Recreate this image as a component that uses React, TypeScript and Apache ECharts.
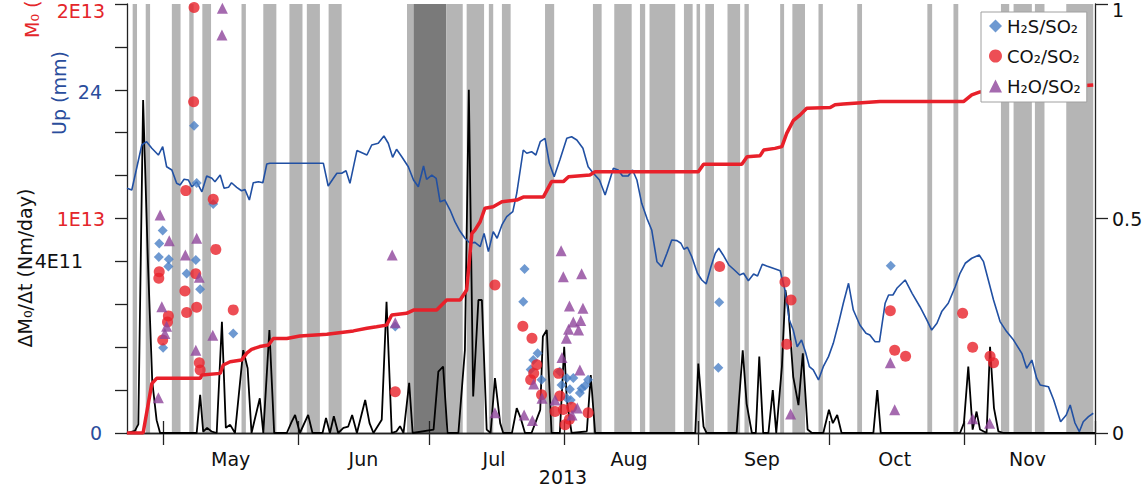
import React, { useEffect, useRef } from 'react';
import * as echarts from 'echarts';

// x values are day-of-year 2013
const X_MIN = 112.7;
const X_MAX = 335;
const monthStarts = [121, 152, 182, 213, 244, 274, 305, 335];
const monthMids = [136.5, 167, 197, 228, 258.5, 289, 319.5];
const monthNames = ['May', 'Jun', 'Jul', 'Aug', 'Sep', 'Oct', 'Nov'];
const yearLabel = '2013';

// grey day bands [startDay, endDay, dark?]
const bands: [number, number, number][] = [
  [114, 115, 0], [117, 118, 0], [123, 125, 0], [127, 128, 0], [130, 132, 0], [139, 140, 0],
  [144, 147, 0], [150, 153, 0], [154, 157, 0], [159, 162, 0], [177, 178.5, 0], [178.5, 186, 1],
  [186, 189.8, 0], [190.7, 194.7, 0], [195.8, 196.8, 0], [198.8, 200.8, 0], [208.7, 210.8, 0],
  [219.7, 221.7, 0], [224.6, 228.6, 0], [230.5, 231.7, 0], [232.7, 238.6, 0], [240.6, 242.6, 0],
  [243.5, 244.3, 0], [245.5, 247.5, 0], [250.6, 253.5, 0], [254.5, 255.5, 0], [262.7, 263.6, 0],
  [265.5, 268.4, 0], [271.5, 272.5, 0], [280.4, 281.5, 0], [296.5, 297.6, 0], [302.5, 303.6, 0],
  [313.4, 315.3, 0], [316.3, 320.5, 0], [321.2, 323.4, 0], [328.4, 334.6, 0],
];

// daily moment rate, units of 1E11 Nm/day
const dMomentE11: [number, number][] = [
  [112.7, 0], [114.5, 0.05], [115.3, 0.2], [116.4, 7.76], [117.5, 4.0], [118.5, 1.2], [119.5, 0.3], [120.3, 0],
  [128.7, 0], [129.5, 0.89], [130.2, 0.03], [131.1, 0.12], [132.2, 0.03], [133.3, 0], [134.5, 2.59], [135.4, 0.12],
  [136.4, 0.19], [137.5, 0], [139.4, 1.93], [140.4, 1.51], [141.3, 0], [143.2, 0.81], [144.0, 0], [145.4, 2.4], [146.5, 0],
  [149.4, 0], [150.5, 0.26], [151.3, 0.42], [152.4, 0], [154.3, 0.42], [155.3, 0], [157.6, 0], [158.4, 0.35], [159.3, 0],
  [160.2, 0.39], [161.2, 0], [162.4, 0.12], [163.5, 0.15], [164.4, 0.42], [165.5, 0], [167.4, 0.77], [168.4, 0.23],
  [169.3, 0], [171.2, 0.31], [172.3, 3.06], [173.5, 0], [174.6, 0.04], [175.4, 0.16], [176.2, 0], [177.5, 1.17], [178.3, 0],
  [183.1, 0.08], [184.2, 1.43], [185.3, 1.55], [186.3, 0], [188.8, 0], [190.3, 1.93], [191.2, 8.0], [192.2, 0.85],
  [193.4, 3.1], [194.2, 3.1], [195.3, 0.08], [196.2, 0], [197.2, 1.28], [198.4, 0.23], [199.1, 0], [201.1, 0],
  [202.2, 0.58], [203.1, 0.35], [204.1, 0], [205.6, 0], [207.6, 0.54], [208.2, 2.25], [209.1, 2.4], [210.2, 0],
  [212.1, 0], [213.1, 2.01], [213.7, 0.77], [214.8, 0], [218.3, 0.04], [219.2, 1.35], [220.2, 0],
  [243.2, 0], [243.9, 1.62], [245.1, 0.15], [245.8, 0], [252.7, 0], [254.1, 1.93], [255.0, 0.68], [256.2, 0],
  [257.1, 0], [257.9, 1.78], [258.8, 0], [260.0, 0], [261.0, 1.0], [261.8, 0], [263.1, 1.55], [263.9, 3.33],
  [264.6, 2.87], [265.7, 1.31], [266.9, 0.65], [267.9, 1.86], [269.0, 0.08], [270.0, 0],
  [272.6, 0], [273.9, 0.54], [274.8, 0.23], [275.8, 0.42], [276.8, 0], [284.1, 0], [285.0, 1.0], [285.8, 0],
  [304.0, 0], [304.9, 0.23], [305.9, 1.55], [306.9, 0.08], [307.8, 0.5], [308.6, 0.08], [310.1, 0], [310.9, 2.01],
  [311.8, 0.58], [312.8, 0.04], [314.0, 0], [335, 0],
];

// cumulative moment, units of 1E13 Nm
const momentE13: [number, number][] = [
  [112.7, 0], [116.4, 0], [118.4, 0.23], [119.5, 0.255], [129.5, 0.255], [129.9, 0.27], [134.1, 0.278], [134.8, 0.317],
  [136.4, 0.332], [139.0, 0.34], [140.2, 0.372], [141.3, 0.39], [143.2, 0.403], [145.2, 0.41], [146.3, 0.441],
  [149.4, 0.441], [152.4, 0.452], [158.6, 0.46], [164.7, 0.476], [167.8, 0.488], [170.0, 0.495], [172.3, 0.503],
  [173.5, 0.55], [176.9, 0.558], [178.5, 0.573], [183.8, 0.573], [186.1, 0.62], [189.2, 0.62], [190.7, 0.667],
  [191.9, 0.93], [192.6, 0.946], [193.8, 0.985], [194.9, 1.048], [196.8, 1.055], [198.8, 1.078], [202.2, 1.086],
  [203.7, 1.1], [208.3, 1.1], [210.2, 1.172], [212.9, 1.172], [214.1, 1.195], [219.0, 1.203], [220.2, 1.218],
  [243.9, 1.218], [245.1, 1.253], [253.9, 1.253], [255.1, 1.288], [258.1, 1.293], [258.9, 1.319], [261.5, 1.327],
  [263.1, 1.335], [264.2, 1.397], [265.7, 1.456], [267.3, 1.483], [268.8, 1.514], [274.2, 1.517], [275.3, 1.53],
  [277.2, 1.534], [285.6, 1.545], [304.8, 1.545], [306.7, 1.576], [308.6, 1.59], [313.2, 1.6], [324.7, 1.61],
  [334.6, 1.622],
];

// GPS vertical displacement, mm
const upMm: [number, number][] = [
  [112.7, 17.11], [113.8, 16.99], [116.1, 20.14], [117.2, 20.37], [118.4, 19.91], [119.9, 19.44], [120.9, 20.02],
  [121.8, 18.62], [123.0, 18.39], [124.1, 17.46], [124.9, 17.34], [125.8, 17.74], [126.8, 17.69], [127.6, 17.22],
  [128.7, 17.57], [129.9, 16.87], [131.0, 17.97], [132.2, 17.81], [132.9, 17.57], [134.1, 18.04], [135.0, 17.11],
  [136.0, 17.18], [136.7, 17.5], [137.9, 17.18], [139.0, 16.94], [139.8, 17.02], [140.8, 16.29], [141.7, 17.5],
  [142.9, 17.57], [143.9, 17.5], [144.8, 18.81], [145.5, 18.86], [157.8, 18.86], [158.9, 17.27], [160.1, 17.81],
  [160.9, 18.16], [162.0, 18.16], [163.0, 18.34], [163.9, 17.46], [165.5, 19.75], [167.8, 19.44], [168.9, 20.14],
  [170.4, 20.26], [171.7, 20.77], [172.7, 20.26], [173.7, 19.28], [174.6, 19.84], [175.8, 19.32], [177.3, 18.62],
  [178.5, 17.69], [179.6, 17.22], [180.8, 18.67], [181.5, 17.74], [182.7, 18.04], [183.7, 17.81], [184.6, 16.17],
  [185.7, 16.29], [186.9, 15.59], [188.0, 14.78], [189.0, 14.2], [190.3, 13.62], [191.5, 13.27], [192.6, 13.33],
  [193.8, 13.03], [194.7, 13.96], [195.7, 12.68], [196.8, 14.08], [197.7, 13.62], [198.8, 14.55], [199.9, 15.13],
  [201.3, 15.48], [202.2, 16.76], [203.7, 19.79], [204.5, 19.56], [205.6, 19.67], [206.6, 19.44], [207.6, 20.37],
  [208.7, 20.61], [209.7, 18.86], [210.8, 17.92], [212.1, 19.09], [213.7, 20.61], [214.8, 20.72], [216.0, 20.49],
  [217.4, 19.91], [218.6, 18.62], [219.8, 18.16], [221.2, 17.69], [222.5, 16.64], [224.4, 18.51], [225.5, 18.39],
  [226.5, 17.97], [227.8, 17.97], [228.8, 18.39], [229.8, 17.69], [230.9, 16.06], [232.1, 15.01], [233.2, 14.2],
  [234.4, 11.98], [235.5, 11.63], [236.7, 12.57], [237.8, 13.5], [239.0, 13.45], [239.9, 13.27], [240.6, 12.85],
  [241.4, 12.99], [242.4, 12.33], [243.7, 11.17], [244.7, 10.7], [245.7, 10.42], [246.8, 11.63], [247.8, 12.57],
  [248.6, 12.92], [249.6, 12.45], [250.9, 11.75], [252.0, 11.45], [253.4, 11.05], [254.3, 11.17], [255.4, 10.65],
  [256.6, 11.12], [257.5, 10.98], [258.6, 11.8], [259.6, 11.68], [261.1, 11.52], [262.7, 11.35], [263.8, 10.0],
  [264.8, 7.9], [265.7, 7.2], [266.6, 6.03], [267.6, 6.5], [268.6, 5.57], [269.4, 4.64], [270.3, 4.41], [271.5, 3.71],
  [272.6, 4.64], [273.8, 5.34], [274.9, 6.27], [276.1, 7.67], [277.2, 9.07], [278.4, 10.47], [279.5, 8.6],
  [281.0, 7.55], [282.4, 6.97], [283.3, 6.85], [284.5, 6.38], [285.5, 6.38], [286.8, 9.07], [287.6, 9.65],
  [288.6, 9.65], [289.5, 10.12], [291.4, 10.7], [293.0, 9.77], [294.8, 8.83], [296.4, 7.9], [297.5, 7.2],
  [298.7, 7.67], [299.8, 8.49], [301.3, 9.07], [302.9, 10.23], [304.0, 11.17], [305.2, 11.87], [306.7, 12.22],
  [308.4, 12.45], [309.4, 11.98], [310.5, 10.7], [311.7, 9.3], [313.2, 7.79], [314.7, 7.09], [316.3, 6.5],
  [318.2, 5.57], [319.3, 4.52], [320.5, 5.1], [321.6, 3.83], [322.4, 3.36], [324.3, 3.24], [325.5, 2.33],
  [327.1, 0.79], [328.4, 1.26], [329.3, 1.96], [330.4, 0.7], [331.4, 0.09], [332.3, 0.79], [333.5, 1.14], [334.6, 1.38],
];

// normalised gas ratios (right axis)
const h2sRatio: [number, number][] = [
  [128.1, 0.716], [128.7, 0.583], [132.5, 0.534], [120.9, 0.472], [120.1, 0.442], [120.0, 0.41], [122.3, 0.405],
  [122.2, 0.388], [128.5, 0.403], [126.4, 0.372], [129.5, 0.335], [137.1, 0.232], [121.0, 0.199], [174.3, 0.248],
  [204.0, 0.382], [203.7, 0.306], [207.0, 0.186], [206.0, 0.17], [205.4, 0.148], [207.9, 0.124], [212.1, 0.143],
  [213.7, 0.128], [215.2, 0.128], [212.5, 0.112], [214.4, 0.102], [217.1, 0.104], [218.6, 0.124], [216.7, 0.093],
  [213.7, 0.081], [214.6, 0.077], [217.9, 0.11], [248.7, 0.305], [248.5, 0.152], [288.1, 0.39],
];
const co2Ratio: [number, number][] = [
  [128.1, 0.992], [128.0, 0.772], [126.2, 0.565], [132.5, 0.545], [133.1, 0.428], [120.1, 0.376], [120.0, 0.361],
  [128.5, 0.371], [126.0, 0.331], [126.4, 0.281], [128.7, 0.293], [122.2, 0.273], [122.0, 0.259], [120.9, 0.217],
  [137.1, 0.287], [129.3, 0.164], [129.5, 0.147], [174.3, 0.096], [197.2, 0.345], [203.6, 0.249], [205.7, 0.221],
  [206.8, 0.159], [206.1, 0.139], [205.4, 0.124], [207.9, 0.089], [211.8, 0.139], [212.1, 0.086], [211.0, 0.05],
  [212.9, 0.055], [214.8, 0.06], [214.3, 0.032], [213.3, 0.019], [218.6, 0.047], [248.8, 0.388], [263.8, 0.352],
  [265.2, 0.31], [264.2, 0.207], [288.0, 0.285], [289.0, 0.193], [291.5, 0.179], [304.6, 0.279], [306.9, 0.2],
  [310.9, 0.179], [311.7, 0.164],
];
const h2oRatio: [number, number][] = [
  [134.6, 0.99], [134.5, 0.928], [120.3, 0.508], [122.4, 0.448], [128.7, 0.454], [126.1, 0.415], [129.3, 0.363],
  [120.7, 0.294], [121.8, 0.249], [121.4, 0.232], [132.4, 0.228], [128.5, 0.193], [119.9, 0.082], [173.6, 0.415],
  [174.3, 0.257], [212.4, 0.425], [212.9, 0.364], [217.1, 0.371], [214.3, 0.296], [217.4, 0.291], [215.2, 0.259],
  [216.9, 0.262], [214.1, 0.242], [216.4, 0.24], [213.6, 0.221], [212.6, 0.176], [216.7, 0.147], [206.1, 0.114],
  [208.0, 0.081], [211.0, 0.077], [216.1, 0.058], [214.9, 0.042], [197.2, 0.047], [203.9, 0.042], [205.8, 0.029],
  [265.1, 0.044], [288.0, 0.164], [289.0, 0.054], [306.9, 0.033], [310.8, 0.023],
];

const FONT = 'DejaVu Sans';
const RED = '#e4262b';
const BLUE = '#2a4d9c';
const AXIS = '#222222';

export default function App() {
  const ref = useRef<HTMLDivElement>(null);
  useEffect(() => {
    if (!ref.current) return;
    const chart = echarts.init(ref.current, undefined, { renderer: 'svg' });
    const near = (a: number, b: number) => Math.abs(a - b) < 1e-6;
    const option: any = {
      animation: false,
      backgroundColor: '#ffffff',
      grid: { left: 127, right: 52, top: 4, bottom: 62, outerBoundsMode: 'none' },
      legend: {
        data: ['H₂S/SO₂', 'CO₂/SO₂', 'H₂O/SO₂'],
        orient: 'vertical',
        left: 981,
        top: 12,
        padding: [5, 6, 7, 8],
        itemGap: 12,
        itemWidth: 13,
        itemHeight: 13,
        backgroundColor: '#ffffff',
        borderColor: '#a0a0a0',
        borderWidth: 1,
        borderRadius: 0,
        textStyle: { fontFamily: FONT, fontSize: 18, color: '#111' },
        z: 20,
      },
      xAxis: [
        {
          type: 'value', min: X_MIN, max: X_MAX, position: 'bottom',
          axisLine: { show: true, lineStyle: { color: AXIS, width: 1.3 } },
          axisTick: { show: true, inside: false, length: 12, customValues: monthStarts, lineStyle: { color: AXIS, width: 1.3 } },
          axisLabel: {
            customValues: monthMids, margin: 16, color: '#111', fontFamily: FONT, fontSize: 19,
            formatter: (v: number) => { const i = monthMids.findIndex((m) => near(m, v)); return i >= 0 ? monthNames[i] : ''; },
          },
          splitLine: { show: false },
        },
        {
          type: 'value', min: X_MIN, max: X_MAX, position: 'top',
          axisLine: { show: true, lineStyle: { color: AXIS, width: 1.3 } },
          axisTick: { show: true, inside: false, length: 12, customValues: monthStarts, lineStyle: { color: AXIS, width: 1.3 } },
          axisLabel: { show: false },
          splitLine: { show: false },
        },
      ],
      yAxis: [
        {
          type: 'value', min: 0, max: 2, interval: 0.2, position: 'left',
          axisLine: { show: true, lineStyle: { color: AXIS, width: 1.3 } },
          axisTick: { show: true, inside: false, length: 12, lineStyle: { color: AXIS, width: 1.3 } },
          axisLabel: {
            margin: 22, color: RED, fontFamily: FONT, fontSize: 19,
            formatter: (v: number) => (near(v, 2) ? '{t|2E13}' : near(v, 1) ? '1E13' : ''),
            rich: { t: { padding: [13, 0, 0, 0], color: RED, fontFamily: FONT, fontSize: 19 } },
          },
          splitLine: { show: false },
        },
        {
          type: 'value', min: 0, max: 30, interval: 6, position: 'left',
          axisLine: { show: false }, axisTick: { show: false },
          axisLabel: {
            margin: 25, color: BLUE, fontFamily: FONT, fontSize: 19,
            formatter: (v: number) => (near(v, 24) ? '{u|24}' : near(v, 0) ? '0' : ''),
            rich: { u: { padding: [5, 0, 0, 0], color: BLUE, fontFamily: FONT, fontSize: 19 } },
          },
          splitLine: { show: false },
        },
        {
          type: 'value', min: 0, max: 10, interval: 1, position: 'left',
          axisLine: { show: false }, axisTick: { show: false },
          axisLabel: {
            margin: 44, color: '#111', fontFamily: FONT, fontSize: 19,
            formatter: (v: number) => (near(v, 4) ? '4E11' : ''),
          },
          splitLine: { show: false },
        },
        {
          type: 'value', min: 0, max: 1, interval: 0.5, position: 'right',
          axisLine: { show: true, lineStyle: { color: AXIS, width: 1.3 } },
          axisTick: { show: true, inside: false, length: 13, lineStyle: { color: AXIS, width: 1.3 } },
          axisLabel: {
            margin: 17, color: '#111', fontFamily: FONT, fontSize: 19,
            formatter: (v: number) => (near(v, 1) ? '{t|1}' : String(v)),
            rich: { t: { padding: [12, 0, 0, 0], color: '#111', fontFamily: FONT, fontSize: 19 } },
          },
          splitLine: { show: false },
        },
      ],
      graphic: [
        {
          type: 'text', x: 25, y: 268, rotation: Math.PI / 2, z: 30,
          style: { text: 'ΔM₀/Δt (Nm/day)', fill: '#111', font: `19px "${FONT}"`, textAlign: 'center', textVerticalAlign: 'middle', align: 'center', verticalAlign: 'middle' },
        },
        {
          type: 'text', x: 59, y: 93, rotation: Math.PI / 2, z: 30,
          style: { text: 'Up (mm)', fill: BLUE, font: `19px "${FONT}"`, textAlign: 'center', textVerticalAlign: 'middle', align: 'center', verticalAlign: 'middle' },
        },
        {
          type: 'text', x: 32, y: 38, rotation: Math.PI / 2, z: 30,
          style: { text: 'M₀ (Nm)', fill: RED, font: `19px "${FONT}"`, textAlign: 'left', textVerticalAlign: 'middle', align: 'left', verticalAlign: 'middle' },
        },
        {
          type: 'text', x: 563, y: 477, z: 30,
          style: { text: yearLabel, fill: '#111', font: `19px "${FONT}"`, textAlign: 'center', textVerticalAlign: 'middle', align: 'center', verticalAlign: 'middle' },
        },
      ],
      series: [
        {
          type: 'custom', name: 'bands', xAxisIndex: 0, yAxisIndex: 3, z: 0, silent: true,
          encode: { x: [0, 1], y: 2 },
          data: bands,
          renderItem: (params: any, api: any) => {
            const s = api.value(0);
            const e = api.value(1);
            const dark = api.value(2);
            const p1 = api.coord([s, 1]);
            const p2 = api.coord([e, 0]);
            return {
              type: 'rect',
              shape: { x: p1[0], y: p1[1], width: p2[0] - p1[0], height: p2[1] - p1[1] },
              style: { fill: dark ? '#7a7a7a' : '#b5b5b5' },
            };
          },
        },
        {
          type: 'line', name: 'dM0', xAxisIndex: 0, yAxisIndex: 2, data: dMomentE11, z: 3,
          showSymbol: false, symbol: 'none', lineStyle: { color: '#000', width: 1.8 },
        },
        {
          type: 'line', name: 'Up', xAxisIndex: 0, yAxisIndex: 1, data: upMm, z: 4,
          showSymbol: false, symbol: 'none', lineStyle: { color: '#2150a3', width: 1.6 },
        },
        {
          type: 'line', name: 'M0', xAxisIndex: 0, yAxisIndex: 0, data: momentE13, z: 5,
          showSymbol: false, symbol: 'none', lineStyle: { color: '#e8202a', width: 3.5 },
        },
        {
          type: 'scatter', name: 'H₂S/SO₂', xAxisIndex: 0, yAxisIndex: 3, data: h2sRatio, z: 6,
          symbol: 'diamond', symbolSize: 10, itemStyle: { color: '#4a80c6' },
        },
        {
          type: 'scatter', name: 'CO₂/SO₂', xAxisIndex: 0, yAxisIndex: 3, data: co2Ratio, z: 6,
          symbol: 'circle', symbolSize: 11, itemStyle: { color: '#e8222b' },
        },
        {
          type: 'scatter', name: 'H₂O/SO₂', xAxisIndex: 0, yAxisIndex: 3, data: h2oRatio, z: 6,
          symbol: 'triangle', symbolSize: 11, itemStyle: { color: '#8e459b' },
        },
      ],
    };
    chart.setOption(option);
    return () => chart.dispose();
  }, []);
  return (
    <div
      ref={ref}
      style={{ position: 'fixed', left: 0, top: 0, width: 1147, height: 495, background: '#fff' }}
    />
  );
}
